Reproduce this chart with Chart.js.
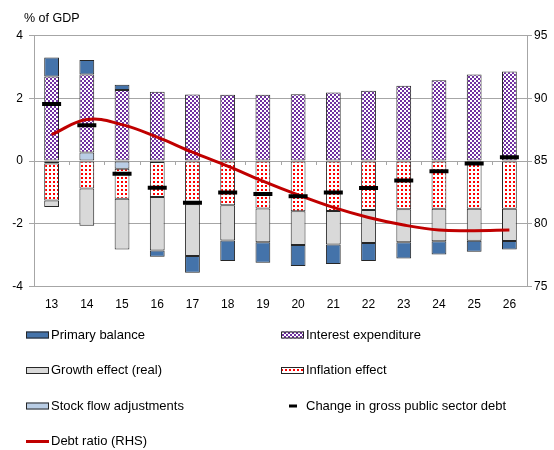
<!DOCTYPE html>
<html>
<head>
<meta charset="utf-8">
<script src="https://cdn.jsdelivr.net/npm/chart.js@4.4.0/dist/chart.umd.min.js"></script>
<style>
html, body { margin: 0; padding: 0; background: #fff; }
#wrap { width: 554px; height: 450px; }
</style>
</head>
<body>
<div id="wrap"><canvas id="debt-chart" width="554" height="450"></canvas></div>
<script>
var years = ['13', '14', '15', '16', '17', '18', '19', '20', '21', '22', '23', '24', '25', '26'];
var primaryBalance = [0.61, 0.46, 0.17, -0.20, -0.53, -0.66, -0.65, -0.67, -0.62, -0.58, -0.52, -0.42, -0.35, -0.27];
var interestExp = [2.69, 2.49, 2.26, 2.21, 2.12, 2.11, 2.11, 2.13, 2.18, 2.24, 2.40, 2.57, 2.76, 2.85];
var growthEffect = [-0.21, -1.18, -1.62, -1.70, -1.65, -1.12, -1.08, -1.08, -1.07, -1.05, -1.05, -1.04, -1.02, -1.03];
var inflationEffect = [-1.18, -0.88, -0.95, -1.12, -1.38, -1.41, -1.51, -1.60, -1.59, -1.56, -1.54, -1.52, -1.52, -1.52];
var stockFlow = [-0.08, 0.27, -0.25, -0.03, 0, 0, 0, 0, 0, 0, 0, 0, 0, 0];
var debtChange = [1.82, 1.14, -0.41, -0.85, -1.33, -1.00, -1.05, -1.12, -1.00, -0.86, -0.62, -0.33, -0.08, 0.12];
var debtRatio = [87.1, 88.3, 87.9, 86.9, 85.7, 84.6, 83.4, 82.3, 81.3, 80.5, 79.9, 79.5, 79.45, 79.5];
var leftTicks = [-4, 4, 2];
var rightTicks = [75, 95, 5];

var legendOrder = ['Primary balance', 'Interest expenditure', 'Growth effect (real)', 'Inflation effect',
    'Stock flow adjustments', 'Change in gross public sector debt', 'Debt ratio (RHS)'];

var FONT = "'Liberation Sans', Arial, sans-serif";
var GRID = '#a6a6a6';
var EDGE = '#262626';

var canvas = document.getElementById('debt-chart');
var ctx = canvas.getContext('2d');

function makePattern(size, draw) {
    var c = document.createElement('canvas');
    c.width = size;
    c.height = size;
    var g = c.getContext('2d');
    g.fillStyle = '#ffffff';
    g.fillRect(0, 0, size, size);
    draw(g);
    return ctx.createPattern(c, 'repeat');
}

var checker = makePattern(4, function (g) {
    g.fillStyle = '#7030a0';
    g.fillRect(0, 0, 2, 2);
    g.fillRect(2, 2, 2, 2);
});
var dots = makePattern(4, function (g) {
    g.fillStyle = '#ff0000';
    g.fillRect(1, 1, 2, 2);
});

function barSet(label, data, fill) {
    return {
        type: 'bar',
        label: label,
        data: data,
        backgroundColor: fill,
        borderColor: EDGE,
        borderWidth: 1,
        borderSkipped: false,
        categoryPercentage: 1,
        barPercentage: 0.42,
        yAxisID: 'y',
        order: 2
    };
}

// stacking order: first dataset sits next to zero on both sides
var datasets = [
    barSet('Stock flow adjustments', stockFlow, '#b9cde5'),
    barSet('Interest expenditure', interestExp, checker),
    barSet('Inflation effect', inflationEffect, dots),
    barSet('Growth effect (real)', growthEffect, '#d9d9d9'),
    barSet('Primary balance', primaryBalance, '#4473aa'),
    {
        type: 'line',
        label: 'Change in gross public sector debt',
        data: debtChange,
        showLine: false,
        stack: 'change',
        pointStyle: 'line',
        pointRadius: 9.5,
        pointHoverRadius: 9.5,
        pointBorderWidth: 4,
        pointBorderColor: '#000000',
        borderColor: '#000000',
        yAxisID: 'y',
        order: 0
    },
    {
        type: 'line',
        label: 'Debt ratio (RHS)',
        data: debtRatio,
        borderColor: '#c00000',
        borderWidth: 3,
        pointRadius: 0,
        tension: 0.4,
        fill: false,
        yAxisID: 'y2',
        order: 1
    }
];

var extras = {
    id: 'extras',
    beforeDatasetsDraw: function (chart) {
        var x = chart.scales.x, y = chart.scales.y, c = chart.ctx;
        var zero = y.getPixelForValue(0);
        c.save();
        c.strokeStyle = GRID;
        c.lineWidth = 1;
        c.beginPath();
        for (var k = 1; k < years.length; k++) {
            var bx = Math.round((x.getPixelForTick(k - 1) + x.getPixelForTick(k)) / 2) + 0.5;
            c.moveTo(bx, zero);
            c.lineTo(bx, zero + 4);
        }
        c.stroke();
        c.restore();
    },
    afterDraw: function (chart) {
        var c = chart.ctx;
        c.save();
        c.font = '12.5px ' + FONT;
        c.fillStyle = '#000';
        c.textBaseline = 'middle';
        c.textAlign = 'left';
        c.fillText('% of GDP', 24, 19);

        c.font = '13px ' + FONT;
        legendOrder.forEach(function (name, i) {
            var ds = chart.data.datasets.filter(function (d) { return d.label === name; })[0];
            var lx = i % 2 === 0 ? 26 : 281;
            var ly = 335 + Math.floor(i / 2) * 35.5;
            if (ds.type === 'bar') {
                c.fillStyle = ds.backgroundColor;
                c.fillRect(lx, ly - 3.5, 23, 7);
                c.strokeStyle = EDGE;
                c.lineWidth = 1;
                c.strokeRect(lx + 0.5, ly - 3, 22, 6);
            } else if (ds.showLine === false) {
                c.strokeStyle = '#000';
                c.lineWidth = 3;
                c.beginPath();
                c.moveTo(lx + 8, ly);
                c.lineTo(lx + 16, ly);
                c.stroke();
            } else {
                c.strokeStyle = ds.borderColor;
                c.lineWidth = 3;
                c.beginPath();
                c.moveTo(lx, ly);
                c.lineTo(lx + 23, ly);
                c.stroke();
            }
            c.fillStyle = '#000';
            c.fillText(name, lx + 25, ly);
        });
        c.restore();
    }
};

new Chart(ctx, {
    data: { labels: years, datasets: datasets },
    plugins: [extras],
    options: {
        responsive: false,
        animation: false,
        devicePixelRatio: 1,
        layout: { padding: { top: 35.5, bottom: 135.5, left: 0, right: 0 } },
        plugins: { legend: { display: false }, tooltip: { enabled: false } },
        scales: {
            x: {
                stacked: true,
                grid: { display: false },
                border: { display: false },
                ticks: { color: '#000', font: { family: FONT, size: 12 }, padding: 3 },
                afterFit: function (s) { s.height = 28; }
            },
            y: {
                stacked: true,
                position: 'left',
                min: leftTicks[0],
                max: leftTicks[1],
                grid: { color: GRID, tickLength: 5, drawTicks: true },
                border: { display: true, color: GRID },
                ticks: { stepSize: leftTicks[2], color: '#000', font: { family: FONT, size: 12 }, padding: 6 },
                afterFit: function (s) { s.width = 34; }
            },
            y2: {
                position: 'right',
                min: rightTicks[0],
                max: rightTicks[1],
                grid: { drawOnChartArea: false, color: GRID, tickLength: 5 },
                border: { display: true, color: GRID },
                ticks: { stepSize: rightTicks[2], color: '#000', font: { family: FONT, size: 12 }, padding: 2 },
                afterFit: function (s) { s.width = 27; }
            }
        }
    }
});
</script>
</body>
</html>
